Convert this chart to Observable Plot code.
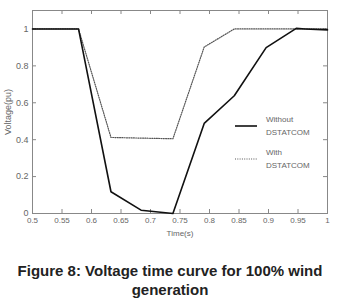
<!DOCTYPE html>
<html>
<head>
<meta charset="utf-8">
<script src="https://cdn.jsdelivr.net/npm/d3@7"></script>
<script src="https://cdn.jsdelivr.net/npm/@observablehq/plot@0.6"></script>
<style>
  html, body { margin: 0; padding: 0; background: #fff; }
  #wrap { position: relative; width: 357px; height: 303px; font-family: "Liberation Sans", Arial, sans-serif; }
  #legend { position: absolute; left: 235px; top: 113px; font-size: 8px; color: #666; line-height: 13px; }
  .item { display: flex; align-items: center; margin-bottom: 7px; }
  .item svg { margin-right: 9px; }
  #caption { position: absolute; left: 0; top: 261px; width: 340px; text-align: center; font-weight: bold; font-size: 15px; line-height: 19px; color: #222; }
</style>
</head>
<body>
<div id="wrap">
  <div id="chart"></div>
  <div id="legend"></div>
  <div id="caption">Figure 8: Voltage time curve for 100% wind<br>generation</div>
</div>
<script>
const timeWithout = [0.5, 0.578, 0.633, 0.684, 0.738, 0.791, 0.842, 0.896, 0.947, 0.962, 1.0];
const voltWithout = [1.0, 1.0, 0.118, 0.018, 0.0, 0.488, 0.638, 0.899, 1.003, 1.0, 0.995];
const timeWith = [0.5, 0.578, 0.633, 0.738, 0.791, 0.842, 1.0];
const voltWith = [1.0, 1.0, 0.412, 0.405, 0.902, 1.0, 1.0];
const xTicks = [0.5, 0.55, 0.6, 0.65, 0.7, 0.75, 0.8, 0.85, 0.9, 0.95, 1.0];
const xTickLabels = ["0.5", "0.55", "0.6", "0.65", "0.7", "0.75", "0.8", "0.85", "0.9", "0.95", "1"];
const yTicks = [0, 0.2, 0.4, 0.6, 0.8, 1];
const yTickLabels = ["0", "0.2", "0.4", "0.6", "0.8", "1"];
const seriesNames = ["Without\nDSTATCOM", "With\nDSTATCOM"];

const without = timeWithout.map((t, i) => ({t, v: voltWithout[i]}));
const withD = timeWith.map((t, i) => ({t, v: voltWith[i]}));
const xFmt = d => xTickLabels[xTicks.findIndex(x => Math.abs(x - d) < 1e-9)];
const yFmt = d => yTickLabels[yTicks.findIndex(y => Math.abs(y - d) < 1e-9)];

const W = 357, H = 245, mL = 32, mR = 30, mT = 10, mB = 32, tk = 4;
const innerW = W - mL - mR, innerH = H - mT - mB;
const textColor = "#666";
const chart = Plot.plot({
  width: W,
  height: H,
  marginLeft: mL,
  marginRight: mR,
  marginTop: mT,
  marginBottom: mB,
  style: {fontFamily: "'Liberation Sans', Arial, sans-serif", fontSize: "8px", color: textColor, background: "#fff"},
  x: {domain: [0.5, 1.0]},
  y: {domain: [0, 1.1]},
  marks: [
    Plot.frame({stroke: "#888", strokeWidth: 1}),
    Plot.axisX(xTicks, {anchor: "bottom", tickSize: 0, tickPadding: 4, tickFormat: xFmt, label: "Time(s)", labelAnchor: "center", labelArrow: "none", labelOffset: 22, fill: textColor}),
    Plot.axisY(yTicks, {anchor: "left", tickSize: 0, tickPadding: 4, tickFormat: yFmt, label: "Voltage(pu)", labelAnchor: "center", labelArrow: "none", labelOffset: 28, fill: textColor, fontSize: 9}),
    Plot.tickX(xTicks, {x: d => d, insetTop: innerH - tk, stroke: "#888"}),
    Plot.tickX(xTicks, {x: d => d, insetBottom: innerH - tk, stroke: "#888"}),
    Plot.tickY(yTicks, {y: d => d, insetRight: innerW - tk, stroke: "#888"}),
    Plot.tickY(yTicks, {y: d => d, insetLeft: innerW - tk, stroke: "#888"}),
    Plot.line(withD, {x: "t", y: "v", stroke: "#555", strokeWidth: 1.2, strokeDasharray: "1,1.3"}),
    Plot.line(without, {x: "t", y: "v", stroke: "#111", strokeWidth: 1.6})
  ]
});
document.getElementById("chart").appendChild(chart);

const legend = document.getElementById("legend");
seriesNames.forEach((name, i) => {
  const item = document.createElement("div");
  item.className = "item";
  const dash = i === 0 ? "" : 'stroke-dasharray="1,1.3"';
  const sw = i === 0 ? 1.6 : 1.2;
  const col = i === 0 ? "#111" : "#555";
  item.innerHTML = `<svg width="22" height="6"><line x1="0" y1="3" x2="22" y2="3" stroke="${col}" stroke-width="${sw}" ${dash}/></svg><span>${name.replace("\n", "<br>")}</span>`;
  legend.appendChild(item);
});
</script>
</body>
</html>
